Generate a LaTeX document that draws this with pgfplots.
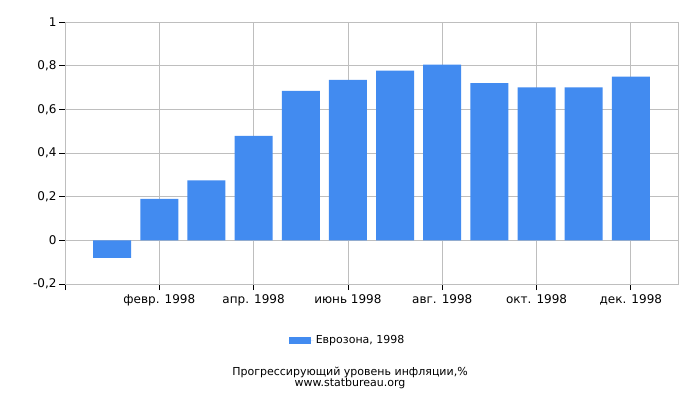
\documentclass[border=0pt]{standalone}
\usepackage{pgfplots}
\pgfplotsset{compat=1.18}
\usepackage{fontspec}
\setmainfont{DejaVu Sans}

\definecolor{barblue}{RGB}{66,139,240}
\definecolor{gridgray}{RGB}{190,190,190}

\begin{document}
\begin{tikzpicture}[x=1bp,y=1bp]
\path[use as bounding box] (0,0) rectangle (700,400);
\begin{axis}[
    at={(65bp,116bp)},
    anchor=south west,
    scale only axis,
    width=613bp,
    height=262bp,
    xmin=0, xmax=13,
    ymin=-0.2, ymax=1,
    ybar,
    bar width=38bp,
    axis line style={gridgray},
    grid=major,
    grid style={gridgray, line width=0.8pt},
    major tick length=6bp,
    tick style={black, line width=0.8pt},
    tick align=outside,
    xtick={0,2,4,6,8,10,12},
    xticklabels={,февр. 1998,апр. 1998,июнь 1998,авг. 1998,окт. 1998,дек. 1998},
    ytick={-0.2,0,0.2,0.4,0.6,0.8,1},
    yticklabels={{-0,2},{0},{0,2},{0,4},{0,6},{0,8},{1}},
    xtick pos=bottom,
    ytick pos=left,
    ticklabel style={font=\fontsize{12bp}{14bp}\selectfont},
    yticklabel style={xshift=1bp},
    xticklabel style={yshift=-1bp},
    legend style={at={(0.461,-0.214)}, anchor=center, draw=none,
        font=\fontsize{11bp}{13bp}\selectfont},
    legend image code/.code={\fill[barblue] (0bp,-3.5bp) rectangle (22bp,3.5bp);
        \path (0bp,0bp) -- (25bp,0bp);},
]
\addplot[fill=barblue, draw=none] coordinates {
(1,-0.08) (2,0.19) (3,0.275) (4,0.478) (5,0.685) (6,0.735)
(7,0.777) (8,0.805) (9,0.72) (10,0.70) (11,0.70) (12,0.75)
};
\addlegendentry{Еврозона, 1998}
\end{axis}
\node[font=\fontsize{11bp}{11bp}\selectfont, align=center, anchor=north]
  at (350,400-364) {Прогрессирующий уровень инфляции,\%\\www.statbureau.org};
\end{tikzpicture}
\end{document}
